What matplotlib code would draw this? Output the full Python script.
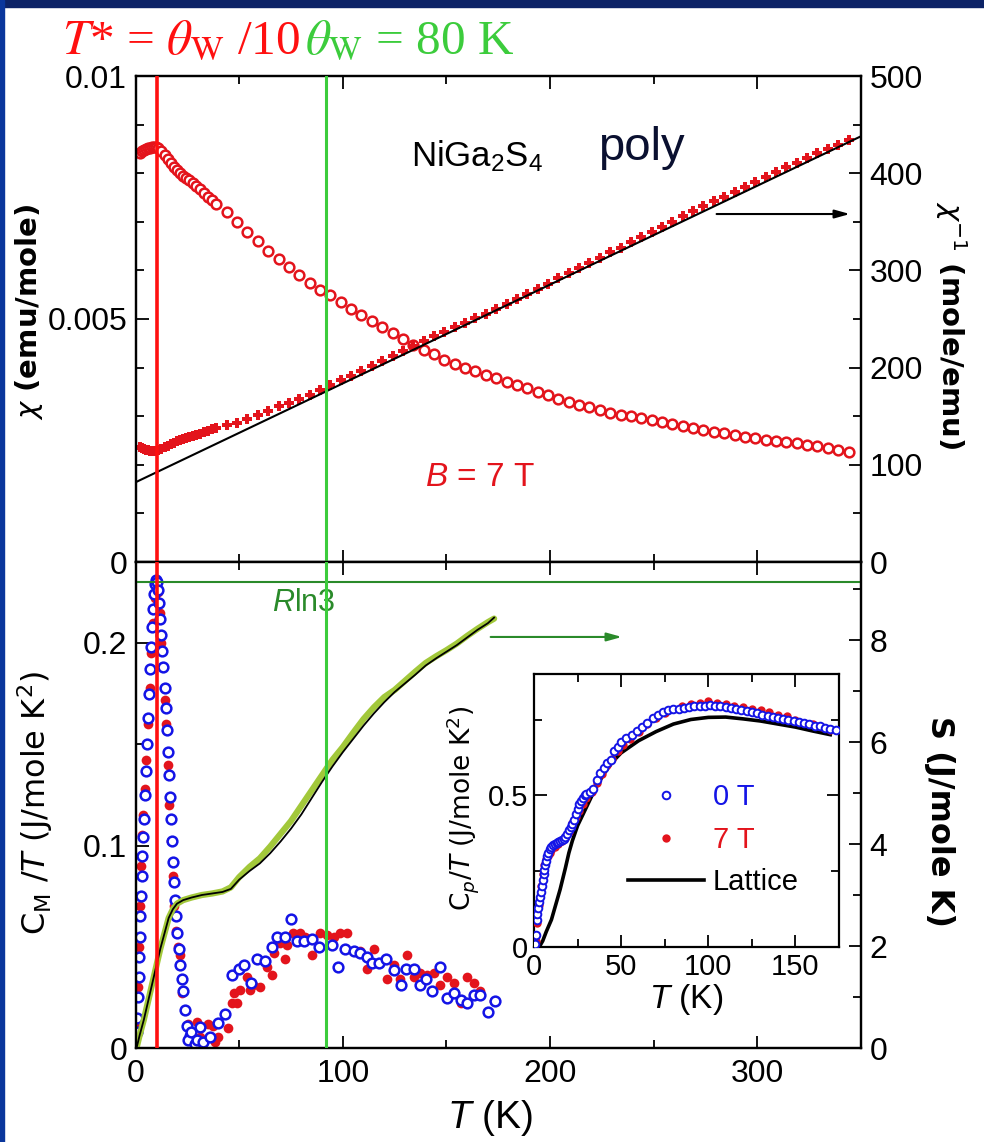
import matplotlib
matplotlib.use('Agg')
import matplotlib.pyplot as plt
from matplotlib.patches import Rectangle
from matplotlib.ticker import MultipleLocator, FixedLocator, FixedFormatter

plt.rcParams['font.family'] = ['Liberation Sans', 'DejaVu Sans']
plt.rcParams['mathtext.fontset'] = 'custom'
plt.rcParams['mathtext.rm'] = 'Liberation Sans'
plt.rcParams['mathtext.it'] = 'Liberation Sans:italic'
plt.rcParams['mathtext.bf'] = 'Liberation Sans:bold'

# ---- susceptibility (B = 7 T) ----
T_chi = [2, 3, 4, 5, 6, 7, 8, 9, 10, 11,
         12.5, 14, 15.5, 17, 18.5, 20, 21.5, 23, 24.5, 26,
         27.5, 29, 31, 33, 35, 37, 39, 44, 49, 54,
         59, 64, 69, 74, 79, 84, 89, 94, 99, 104,
         109, 114, 119, 124, 129, 134, 139, 144, 149, 154,
         159, 164, 169, 174, 179, 184, 189, 194, 199, 204,
         209, 214, 219, 224, 229, 234, 239, 244, 249, 254,
         259, 264, 269, 274, 279, 284, 289, 294, 299, 304,
         309, 314, 319, 324, 329, 334, 339, 344]
chi = [0.00842, 0.00845, 0.00848, 0.0085, 0.00851, 0.00852, 0.00853, 0.00854, 0.00854, 0.00852,
       0.00846, 0.00838, 0.00829, 0.0082, 0.00812, 0.00806, 0.008, 0.00795, 0.0079, 0.00785,
       0.00779, 0.00774, 0.00767, 0.0076, 0.00752, 0.00744, 0.00736, 0.0072, 0.007, 0.00679,
       0.0066, 0.0064, 0.00624, 0.00607, 0.0059, 0.00575, 0.00559, 0.00549, 0.00535, 0.0052,
       0.00508, 0.00495, 0.00484, 0.00472, 0.00458, 0.00447, 0.00437, 0.00427, 0.00416, 0.00407,
       0.004, 0.00392, 0.00385, 0.00378, 0.00371, 0.00364, 0.00358, 0.0035, 0.00343, 0.00336,
       0.00329, 0.00324, 0.00318, 0.00312, 0.00307, 0.00303, 0.003, 0.00296, 0.00292, 0.00288,
       0.00284, 0.0028, 0.00276, 0.00272, 0.00268, 0.00265, 0.00261, 0.00258, 0.00255, 0.00252,
       0.00249, 0.00246, 0.00244, 0.00241, 0.00238, 0.00235, 0.00231, 0.00227]
chi_inv = [118, 117, 116, 115.5, 115, 114.5, 114, 114, 114.5, 115,
           116.5, 118, 119.5, 121, 122.5, 124, 125.5, 127, 128, 129,
           130, 131, 132, 133.5, 135, 136.5, 138, 140.5, 143.5, 147,
           151, 155.5, 160, 164, 168, 172, 177, 182, 187, 191.5,
           196, 201.5, 207, 212, 217.5, 222, 227, 232, 237, 241.5,
           246, 251, 255.5, 260, 265, 270.5, 276, 281, 286.5, 292,
           297, 302.5, 308, 313, 318.5, 323.5, 329, 334, 339.5, 345,
           350, 355.5, 361, 366, 371, 376, 381, 386, 391, 396,
           401, 406, 411, 416, 420.5, 425, 429.5, 434]
fit_T = [0, 350]
fit_inv = [82, 438]

# ---- magnetic specific heat C_M/T ----
T_cm0 = [0.6, 0.9, 1.2, 1.5, 1.8, 2.1, 2.4, 2.7, 3.0, 3.3,
         3.6, 4.0, 4.5, 5.0, 5.5, 6.0, 6.5, 7.0, 7.5, 8.0,
         8.5, 9.0, 9.5, 10.0, 10.5, 11.0, 11.5, 12.0, 12.5, 13.0,
         13.5, 14.0, 14.5, 15.0, 15.5, 16.0, 16.5, 17.0, 17.5, 18.0,
         18.5, 19.0, 19.6, 20.2, 20.8, 21.5, 22.2, 22.8, 23.9, 25.0,
         26.3, 25.5, 27.0, 28.5, 29.6, 31.2, 32.5, 36.0, 40.0, 43.2,
         46.5, 49.7, 52.4, 55.6, 58.5, 62.6, 65.8, 68.2, 71.9, 75.0,
         77.9, 81.4, 85.1, 88.3, 94.8, 97.7, 101.2, 105.2, 108.5, 111.7,
         114.1, 117.3, 121.0, 124.5, 128.1, 130.7, 134.2, 137.4, 140.3, 143.1,
         147.1, 150.3, 153.5, 156.8, 160.0, 163.2, 166.4, 170.0, 173.2]
cm0 = [0.008, 0.015, 0.025, 0.035, 0.045, 0.055, 0.065, 0.075, 0.085, 0.095,
       0.104, 0.113, 0.125, 0.137, 0.15, 0.163, 0.175, 0.187, 0.198, 0.208,
       0.217, 0.224, 0.229, 0.231, 0.23, 0.226, 0.22, 0.212, 0.204, 0.196,
       0.188, 0.178, 0.168, 0.157, 0.146, 0.135, 0.124, 0.113, 0.102, 0.092,
       0.082, 0.073, 0.065, 0.057, 0.049, 0.041, 0.034, 0.028, 0.019, 0.011,
       0.006, 0.004, 0.008, 0.002, 0.004, 0.0105, 0.003, 0.0056, 0.0122, 0.017,
       0.036, 0.039, 0.041, 0.032, 0.044, 0.043, 0.05, 0.055, 0.055, 0.0635,
       0.053, 0.053, 0.054, 0.05, 0.051, 0.04, 0.049, 0.048, 0.047, 0.045,
       0.042, 0.042, 0.044, 0.0385, 0.031, 0.039, 0.039, 0.031, 0.034, 0.028,
       0.04, 0.0245, 0.027, 0.0237, 0.022, 0.026, 0.026, 0.018, 0.023]
T_cm7 = [0.8, 1.3, 1.8, 2.3, 2.8, 3.3, 3.8, 4.5, 5.2, 6.0,
         6.8, 7.6, 8.4, 9.2, 10.0, 10.8, 11.6, 12.4, 13.2, 14.0,
         14.8, 15.6, 16.4, 17.2, 18.0, 18.8, 19.6, 20.4, 21.5, 22.3,
         25.5, 27.1, 29.6, 31.2, 35.2, 37.6, 38.4, 40.0, 44.8, 46.5,
         47.3, 48.9, 50.5, 53.7, 55.3, 56.9, 60.1, 63.4, 65.8, 66.6,
         69.8, 72.2, 73.0, 76.2, 79.4, 81.8, 85.1, 89.1, 92.3, 95.6,
         98.8, 102.0, 108.5, 111.7, 114.9, 121.3, 124.5, 127.8, 131.0, 134.2,
         137.4, 140.6, 143.9, 147.1, 150.3, 153.5, 156.8, 160.0, 163.2, 166.4,
         172.8]
cm7 = [0.01, 0.03, 0.05, 0.07, 0.09, 0.105, 0.115, 0.128, 0.142, 0.16,
       0.178, 0.195, 0.21, 0.222, 0.228, 0.225, 0.215, 0.2, 0.188, 0.172,
       0.16, 0.14, 0.12, 0.102, 0.085, 0.07, 0.058, 0.05, 0.046, 0.027,
       0.012, 0.004, 0.013, 0.0056, 0.012, 0.011, 0.003, 0.0056, 0.0097, 0.022,
       0.027, 0.022, 0.0287, 0.035, 0.0287, 0.031, 0.03, 0.04, 0.036, 0.047,
       0.052, 0.044, 0.051, 0.057, 0.057, 0.055, 0.046, 0.057, 0.056, 0.055,
       0.057, 0.057, 0.048, 0.039, 0.049, 0.034, 0.041, 0.034, 0.046, 0.035,
       0.037, 0.036, 0.037, 0.031, 0.035, 0.032, 0.022, 0.035, 0.032, 0.028,
       0.023]

# ---- entropy ----
T_S = [0.5, 2, 4, 6, 8, 10, 12, 14, 16, 18,
       20, 23, 27, 32, 37, 42, 46, 50, 55, 60,
       65, 70, 75, 80, 85, 90, 95, 100, 105, 110,
       115, 120, 125, 130, 135, 140, 145, 150, 155, 160,
       165, 170, 173]
S_green = [0, 0.25, 0.55, 0.9, 1.25, 1.6, 1.95, 2.25, 2.55, 2.72,
           2.83, 2.9, 2.95, 3.0, 3.03, 3.07, 3.15, 3.35, 3.55, 3.72,
           3.95, 4.2, 4.45, 4.75, 5.05, 5.35, 5.65, 5.9, 6.18, 6.45,
           6.68, 6.88, 7.02, 7.2, 7.38, 7.55, 7.68, 7.8, 7.93, 8.08,
           8.22, 8.35, 8.42]
S_black = [0, 0.25, 0.55, 0.9, 1.25, 1.6, 1.95, 2.25, 2.55, 2.72,
           2.83, 2.9, 2.95, 3.0, 3.03, 3.06, 3.12, 3.3, 3.47, 3.62,
           3.82, 4.05, 4.3, 4.58, 4.9, 5.22, 5.52, 5.8, 6.06, 6.32,
           6.56, 6.78, 6.98, 7.15, 7.32, 7.5, 7.64, 7.77, 7.9, 8.05,
           8.2, 8.33, 8.44]
RLN3 = 9.13

# ---- inset: total C_p/T ----
T0 = [0.6, 1, 1.5, 2, 2.5, 3, 3.5, 4, 4.5, 5,
      5.5, 6, 6.5, 7, 7.5, 8, 9, 10, 11, 12,
      13, 14, 15, 16, 17, 18, 19, 20, 21, 22,
      23, 24, 25, 26, 27, 28, 29, 30, 32, 34,
      36, 38, 40, 42, 44, 46, 48, 50, 53, 56,
      59, 62, 65, 68, 71, 74, 77, 80, 83, 86,
      89, 92, 95, 98, 101, 104, 107, 110, 113, 116,
      119, 122, 125, 128, 131, 134, 137, 140, 143, 146,
      149, 152, 155, 158, 161, 164, 167, 170, 173]
cp0 = [0.01, 0.04, 0.09, 0.11, 0.13, 0.15, 0.165, 0.18, 0.2, 0.22,
       0.24, 0.255, 0.27, 0.285, 0.3, 0.31, 0.322, 0.33, 0.335, 0.338,
       0.342, 0.345, 0.348, 0.352, 0.357, 0.363, 0.372, 0.385, 0.395, 0.407,
       0.42, 0.44, 0.455, 0.47, 0.48, 0.49, 0.5, 0.505, 0.51, 0.52,
       0.55, 0.575, 0.59, 0.605, 0.615, 0.645, 0.66, 0.675, 0.69, 0.7,
       0.712, 0.725, 0.74, 0.755, 0.765, 0.775, 0.78, 0.783, 0.786, 0.789,
       0.79, 0.793, 0.795, 0.796, 0.797, 0.796, 0.794, 0.79, 0.788, 0.785,
       0.782, 0.778, 0.774, 0.77, 0.766, 0.762, 0.758, 0.755, 0.752, 0.748,
       0.745, 0.741, 0.737, 0.734, 0.73, 0.727, 0.722, 0.718, 0.714]
T7 = [1, 2, 3, 4, 5, 6, 7, 8, 9, 10,
      12, 14, 16, 18, 20, 22, 24, 26, 28, 30,
      33, 36, 39, 42, 45, 48, 51, 55, 60, 65,
      70, 75, 80, 85, 90, 95, 100, 105, 110, 115,
      120, 125, 130, 135, 140, 145, 150, 155, 160, 165,
      170]
cp7 = [0.02, 0.08, 0.14, 0.2, 0.24, 0.27, 0.29, 0.3, 0.31, 0.32,
       0.33, 0.34, 0.35, 0.36, 0.38, 0.41, 0.43, 0.45, 0.47, 0.49,
       0.51, 0.54, 0.57, 0.6, 0.62, 0.645, 0.665, 0.685, 0.71, 0.735,
       0.755, 0.77, 0.785, 0.795, 0.8, 0.805, 0.81, 0.805, 0.8, 0.795,
       0.79, 0.785, 0.78, 0.775, 0.765, 0.76, 0.75, 0.74, 0.735, 0.725,
       0.715]
T_lat = [3, 5, 7, 10, 12, 15, 18, 20, 22, 25,
         30, 35, 40, 45, 50, 60, 70, 80, 90, 100,
         110, 120, 130, 140, 150, 160, 170]
cp_lat = [0, 0.02, 0.05, 0.09, 0.13, 0.19, 0.26, 0.31, 0.35, 0.4,
          0.46, 0.52, 0.57, 0.61, 0.64, 0.68, 0.71, 0.735, 0.75, 0.757,
          0.758, 0.752, 0.745, 0.735, 0.725, 0.712, 0.7]

T_star = 10.5
T_theta = 92

RED = '#e3141c'
BLUE = '#1414e6'
VRED = '#ff1010'
VGREEN = '#3ccc3c'
DKGREEN = '#2a8a2a'
YGREEN = '#a2c83a'
NAVY = '#0c2266'

W, H = 984, 1142
fig = plt.figure(figsize=(W / 100, H / 100), dpi=100)


def box(l, t, r, b):
    return [l / W, 1 - b / H, (r - l) / W, (b - t) / H]


def ticks(ax, size=23):
    ax.tick_params(which='both', direction='in', labelsize=size, width=1.3)
    ax.tick_params(which='major', length=9, pad=6)
    ax.tick_params(which='minor', length=6)
    for s in ax.spines.values():
        s.set_linewidth(1.6)


fig.add_artist(Rectangle((0, 1 - 7 / H), 1, 7 / H, transform=fig.transFigure, color=NAVY, zorder=0))
fig.add_artist(Rectangle((0, 0), 4 / W, 1, transform=fig.transFigure, color='#0a369c', zorder=0))

# ---------------- top panel ----------------
ax1 = fig.add_axes(box(135.5, 76, 861, 562))
ax1.set_xlim(0, 350)
ax1.set_ylim(0, 0.01)
ax1.plot(T_chi, chi, 'o', mfc='white', mec=RED, ms=7, mew=1.8)
ax1.xaxis.set_major_locator(MultipleLocator(100))
ax1.xaxis.set_minor_locator(MultipleLocator(50))
ax1.yaxis.set_major_locator(FixedLocator([0, 0.005, 0.01]))
ax1.yaxis.set_major_formatter(FixedFormatter(['0', '0.005', '0.01']))
ax1.yaxis.set_minor_locator(MultipleLocator(0.001))
ax1.tick_params(axis='x', which='both', top=True, bottom=True, labelbottom=False)
ticks(ax1)

ax1r = ax1.twinx()
ax1r.set_ylim(0, 500)
ax1r.plot(T_chi, chi_inv, 'P', color=RED, ms=7.5, mew=0)
ax1r.plot(fit_T, fit_inv, color='k', lw=1.5, zorder=3)
ax1r.yaxis.set_major_locator(MultipleLocator(100))
ax1r.yaxis.set_minor_locator(MultipleLocator(50))
ticks(ax1r)
ax1r.axvline(T_star, color=VRED, lw=2.6, zorder=5)
ax1r.axvline(T_theta, color=VGREEN, lw=2.2, zorder=5)
ax1r.annotate('', xy=(346, 358), xytext=(279, 358),
              arrowprops=dict(arrowstyle='-|>,head_length=0.9,head_width=0.25', color='k', lw=1.5))

ax1.text(133, 0.00815, r'NiGa$_{2}$S$_{4}$', fontsize=25, va='baseline')
ax1.text(223, 0.00827, 'poly', fontsize=34, color='#0a1030', va='baseline')
ax1.text(166, 0.00173, r'$B$ = 7 T', fontsize=24, color=RED, ha='center', va='center')

# ---------------- bottom panel ----------------
ax2 = fig.add_axes(box(135.5, 562, 861, 1048))
ax2.set_xlim(0, 350)
ax2.set_ylim(0, 0.24)
ax2.plot(T_cm7, cm7, 'o', color=RED, ms=7, mew=0)
ax2.plot(T_cm0, cm0, 'o', mfc='white', mec=BLUE, ms=7, mew=1.8)
ax2.xaxis.set_major_locator(MultipleLocator(100))
ax2.xaxis.set_minor_locator(MultipleLocator(50))
ax2.yaxis.set_major_locator(FixedLocator([0, 0.1, 0.2]))
ax2.yaxis.set_major_formatter(FixedFormatter(['0', '0.1', '0.2']))
ax2.yaxis.set_minor_locator(MultipleLocator(0.05))
ticks(ax2)
ax2.tick_params(axis='x', which='both', top=True, bottom=True, pad=8)

ax2r = ax2.twinx()
ax2r.set_ylim(0, 9.53)
ax2r.plot(T_S, S_green, color=YGREEN, lw=4.5, solid_capstyle='round')
ax2r.plot(T_S, S_black, color='k', lw=1.3)
ax2r.axhline(RLN3, color=DKGREEN, lw=1.5)
ax2r.yaxis.set_major_locator(MultipleLocator(2))
ax2r.yaxis.set_minor_locator(MultipleLocator(1))
ticks(ax2r)
ax2r.axvline(T_star, color=VRED, lw=2.6, zorder=5)
ax2r.axvline(T_theta, color=VGREEN, lw=2.2, zorder=5)
ax2r.text(81, 8.73, r'$R$ln3', fontsize=22, color=DKGREEN, ha='center', va='center')
ax2r.annotate('', xy=(236, 8.06), xytext=(170, 8.06),
              arrowprops=dict(arrowstyle='-|>,head_length=0.9,head_width=0.25', color=DKGREEN, lw=1.5))

# ---------------- inset ----------------
ax3 = fig.add_axes(box(534, 674, 839, 947))
ax3.set_zorder(10)
ax3.set_xlim(0, 175)
ax3.set_ylim(0, 0.9)
ax3.plot(T_lat, cp_lat, color='k', lw=2.6, zorder=2, label='Lattice')
ax3.plot(T7, cp7, 'o', color=RED, ms=6, mew=0, zorder=3, label='7 T')
ax3.plot(T0, cp0, 'o', mfc='white', mec=BLUE, ms=5.5, mew=1.4, zorder=4, label='0 T')
ax3.xaxis.set_major_locator(MultipleLocator(50))
ax3.xaxis.set_minor_locator(MultipleLocator(25))
ax3.yaxis.set_major_locator(FixedLocator([0, 0.5]))
ax3.yaxis.set_major_formatter(FixedFormatter(['0', '0.5']))
ax3.yaxis.set_minor_locator(MultipleLocator(0.25))
ax3.tick_params(which='both', top=True, right=True)
ticks(ax3, 21)
ax3.tick_params(which='major', pad=4)
ax3.set_xlabel(r'$T$ (K)', fontsize=24, labelpad=1)
h = ax3.get_legend_handles_labels()[0]
ax3.legend([h[2], h[1], h[0]], ['0 T', '7 T', 'Lattice'], loc='upper left',
           bbox_to_anchor=(0.308, 0.6), frameon=False, fontsize=21, handlelength=2.6,
           handletextpad=0.3, labelspacing=0.5, borderpad=0, borderaxespad=0,
           labelcolor=[BLUE, RED, 'k'])

# ---------------- labels ----------------
fig.text(29 / W, 1 - 312 / H, r'$\chi$ (emu/mole)', fontsize=21, fontweight='bold',
         family='DejaVu Sans', math_fontfamily='dejavusans',
         rotation=90, ha='center', va='center')
fig.text(951 / W, 1 - 325 / H, r'$\chi^{-1}$ (mole/emu)', fontsize=21, fontweight='bold',
         family='DejaVu Sans', math_fontfamily='dejavusans',
         rotation=270, ha='center', va='center')
fig.text(35 / W, 1 - 803 / H, r'C$_{\mathrm{M}}$ /$T$ (J/mole K$^{2}$)', fontsize=23,
         family='DejaVu Sans', math_fontfamily='dejavusans',
         rotation=90, ha='center', va='center')
fig.text(940 / W, 1 - 821 / H, 'S (J/mole K)', fontsize=23, fontweight='bold',
         family='DejaVu Sans', rotation=270, ha='center', va='center')
fig.text(463 / W, 1 - 808 / H, r'C$_{p}$/$T$ (J/mole K$^{2}$)', fontsize=19,
         family='DejaVu Sans', math_fontfamily='dejavusans',
         rotation=90, ha='center', va='center', zorder=20)
fig.text(490 / W, 1 - 1118 / H, r'$T$ (K)', fontsize=28, ha='center', va='center')

fig.text(62 / W, 1 - 53 / H, r'$T$* = $\theta_{\rm W}$ /10', fontsize=35.5, color=VRED,
         family='Liberation Serif', math_fontfamily='stix', va='baseline')
fig.text(305 / W, 1 - 53 / H, r'$\theta_{\rm W}$ = 80 K', fontsize=35.5, color=VGREEN,
         family='Liberation Serif', math_fontfamily='stix', va='baseline')

fig.savefig('out.png', dpi=100)
